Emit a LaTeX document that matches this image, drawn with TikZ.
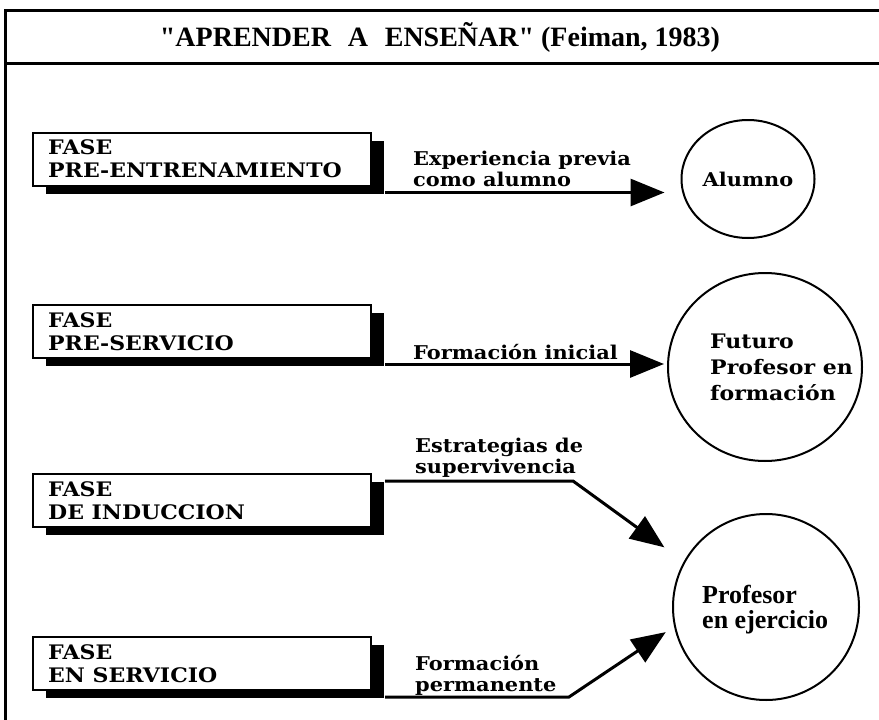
\documentclass[tikz,border=0pt]{standalone}
\usepackage{fontspec}
\newfontfamily\anchafont[FakeStretch=1.1]{DejaVu Serif}
\newfontfamily\titulofont{Liberation Serif}
\usepackage{tikz}
\usetikzlibrary{arrows.meta,shapes.geometric,shadows}

\begin{document}
\begin{tikzpicture}[x=1pt,y=-1pt,
    >={Triangle[length=34pt,width=27pt]},
    fase/.style={rectangle, draw, line width=2pt, fill=white,
        minimum width=338pt, minimum height=53pt,
        drop shadow={shadow xshift=13pt, shadow yshift=-8pt,
                     fill=black, opacity=1}},
    fasetxt/.style={anchor=west, align=left, inner sep=0pt,
        font=\anchafont\bfseries\fontsize{20}{23}\selectfont},
    etapa/.style={ellipse, draw, line width=2pt},
    etapatxt/.style={align=left, inner sep=0pt,
        font=\anchafont\bfseries\fontsize{20}{26}\selectfont},
    etiqueta/.style={anchor=west, align=left, inner sep=0pt,
        font=\anchafont\bfseries\fontsize{19}{21}\selectfont},
    flecha/.style={->, line width=3pt}]

    \useasboundingbox (0,0) rectangle (879,720);

    % marco y titulo
    \draw[line width=3pt] (879,10) -- (5,10) -- (5,720);
    \draw[line width=3pt] (5,63) -- (879,63);
    \node[font=\titulofont\bfseries\fontsize{28}{30}\selectfont]
        (titulo) at (440,37)
        {"APRENDER\hspace{0.6em}A\hspace{0.6em}ENSEÑAR" (Feiman, 1983)};

    % fases
    \node[fase] (pre) at (202,159) {};
    \node[fasetxt] at ([xshift=16]pre.west) {FASE\\PRE-ENTRENAMIENTO};

    \node[fase] (preserv) at (202,331.5) {};
    \node[fasetxt] at ([xshift=16]preserv.west) {FASE\\PRE-SERVICIO};

    \node[fase] (ind) at (202,500.5) {};
    \node[fasetxt] at ([xshift=16]ind.west) {FASE\\DE INDUCCION};

    \node[fase] (serv) at (202,663.5) {};
    \node[fasetxt] at ([xshift=16]serv.west) {FASE\\EN SERVICIO};

    % etapas
    \node[etapa,
          minimum width = 133pt,
          minimum height = 118pt
          ] (alumno) at (748,179) {};
    \node[etapatxt,
          font=\anchafont\bfseries\fontsize{19}{22}\selectfont
          ] at (alumno.center) {Alumno};

    \node[etapa,
          minimum width = 194pt,
          minimum height = 188pt
          ] (futuro) at (765,367) {};
    \node[etapatxt, anchor=west] at ([xshift=-55]futuro.center)
        {Futuro\\Profesor en\\formación};

    \node[etapa,
          minimum width = 186pt,
          minimum height = 186pt
          ] (profesor) at (766,607) {};
    \node[etapatxt, anchor=west,
          font=\titulofont\bfseries\fontsize{26}{25}\selectfont
          ] at ([xshift=-64,yshift=-3]profesor.center)
        {Profesor\\en ejercicio};

    % flechas
    \coordinate (a1) at ([shift={(13,6)}]pre.south east);
    \coordinate (a2) at ([shift={(13,5)}]preserv.south east);
    \coordinate (a3) at ([shift={(13,8)}]ind.north east);
    \coordinate (a4) at ([shift={(13,6)}]serv.south east);

    \draw[flecha, shorten >=16pt] (a1) -- (a1 -| alumno.west);
    \draw[flecha, shorten >=3pt] (a2) -- (a2 -| futuro.west);
    \draw[flecha, shorten >=24pt] (a3) -- ++(188,0) -- (profesor.151);
    \draw[flecha, shorten >=10pt] (a4) -- ++(184,0) -- (profesor.192);

    % etiquetas
    \node[etiqueta] (lexp) at (413,168.5) {Experiencia previa\\como alumno};
    \node[etiqueta] (lini) at (413,352) {Formación inicial};
    \node[etiqueta] (lest) at (415,457.5) {Estrategias de\\supervivencia};
    \node[etiqueta] (lper) at (415,675) {Formación\\permanente};

\end{tikzpicture}
\end{document}
